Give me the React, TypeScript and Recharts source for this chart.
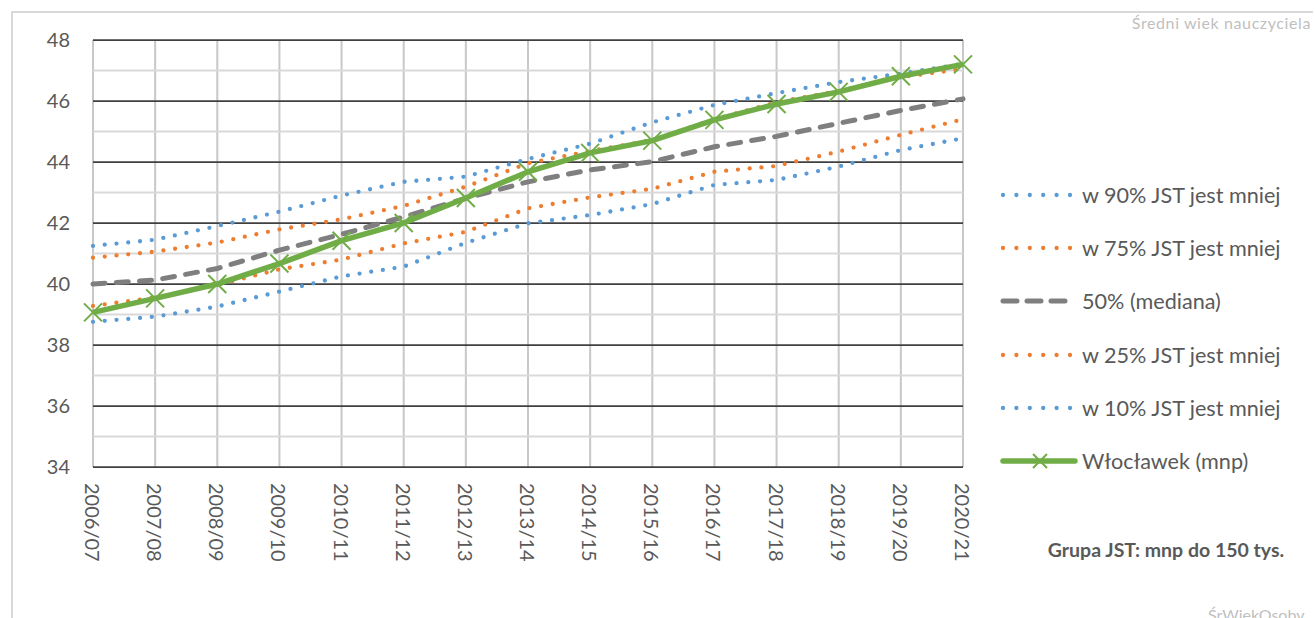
import React from 'react';
import { LineChart, Line, XAxis, YAxis, CartesianGrid, Legend, ReferenceLine } from 'recharts';

const categories = ['2006/07', '2007/08', '2008/09', '2009/10', '2010/11', '2011/12', '2012/13', '2013/14', '2014/15', '2015/16', '2016/17', '2017/18', '2018/19', '2019/20', '2020/21'];
const p90 = [41.25, 41.45, 41.9, 42.37, 42.9, 43.35, 43.52, 44.1, 44.6, 45.3, 45.87, 46.26, 46.62, 46.9, 47.22];
const p75 = [40.86, 41.06, 41.36, 41.79, 42.12, 42.56, 43.19, 43.96, 44.36, 44.72, 45.4, 45.96, 46.33, 46.78, 47.05];
const p50 = [40.0, 40.13, 40.51, 41.11, 41.63, 42.2, 42.81, 43.35, 43.74, 44.01, 44.5, 44.84, 45.27, 45.69, 46.07];
const p25 = [39.28, 39.56, 39.97, 40.48, 40.8, 41.33, 41.71, 42.48, 42.84, 43.12, 43.68, 43.87, 44.34, 44.89, 45.4];
const p10 = [38.76, 38.93, 39.26, 39.75, 40.25, 40.57, 41.35, 41.99, 42.26, 42.62, 43.25, 43.41, 43.85, 44.39, 44.78];
const wloclawek = [39.07, 39.53, 40.0, 40.67, 41.42, 42.0, 42.82, 43.68, 44.3, 44.7, 45.38, 45.9, 46.3, 46.81, 47.2];

const yMajorTicks = [34, 36, 38, 40, 42, 44, 46, 48];
const yMinorTicks = [35, 37, 39, 41, 43, 45, 47];

const seriesNames = {
  p90: 'w 90% JST jest mniej',
  p75: 'w 75% JST jest mniej',
  p50: '50% (mediana)',
  p25: 'w 25% JST jest mniej',
  p10: 'w 10% JST jest mniej',
  wl: 'Włocławek (mnp)',
};

const data = categories.map((cat, i) => ({
  cat,
  p90: p90[i],
  p75: p75[i],
  p50: p50[i],
  p25: p25[i],
  p10: p10[i],
  wl: wloclawek[i],
}));

const BLUE = '#5b9bd5';
const ORANGE = '#ed7d31';
const GRAY = '#7f7f7f';
const GREEN = '#70ad47';
const TEXT = '#595959';
const FONT = 'Lato, "Open Sans", sans-serif';

const seriesStyles = [
  { key: 'p90', color: BLUE, kind: 'dot' },
  { key: 'p75', color: ORANGE, kind: 'dot' },
  { key: 'p50', color: GRAY, kind: 'dash' },
  { key: 'p25', color: ORANGE, kind: 'dot' },
  { key: 'p10', color: BLUE, kind: 'dot' },
  { key: 'wl', color: GREEN, kind: 'solid' },
];

const XTick = (props: any) => {
  const { x, y, payload } = props;
  return (
    <text
      x={x}
      y={y}
      transform={`rotate(90 ${x} ${y})`}
      textAnchor="start"
      dominantBaseline="central"
      fill={TEXT}
      fontSize={20}
      fontFamily={FONT}
    >
      {payload.value}
    </text>
  );
};

const XDot = (props: any) => {
  const { cx, cy, index } = props;
  if (cx == null || cy == null) return <g key={`xd-${index}`} />;
  const s = 9;
  return (
    <path
      key={`xd-${index}`}
      d={`M${cx - s},${cy - s}L${cx + s},${cy + s}M${cx - s},${cy + s}L${cx + s},${cy - s}`}
      stroke={GREEN}
      strokeWidth={2}
      fill="none"
    />
  );
};

const LegendIcon = ({ kind, color }: { kind: string; color: string }) => {
  if (kind === 'dot') {
    return (
      <svg width={82} height={20} style={{ display: 'block', flex: 'none' }}>
        <line x1={3} y1={10} x2={70} y2={10} stroke={color} strokeWidth={4.3} strokeDasharray="0 13.4" strokeLinecap="round" />
      </svg>
    );
  }
  if (kind === 'dash') {
    return (
      <svg width={82} height={20} style={{ display: 'block', flex: 'none' }}>
        <line x1={3} y1={10} x2={70} y2={10} stroke={color} strokeWidth={5} strokeDasharray="14 10" strokeLinecap="round" />
      </svg>
    );
  }
  return (
    <svg width={82} height={20} style={{ display: 'block', flex: 'none' }}>
      <line x1={3} y1={10} x2={75} y2={10} stroke={color} strokeWidth={5.5} strokeLinecap="round" />
      <path d="M33,3L47,17M33,17L47,3" stroke={color} strokeWidth={2} fill="none" />
    </svg>
  );
};

const renderLegend = () => (
  <div style={{ fontFamily: FONT, fontSize: 21.6, color: TEXT }}>
    {seriesStyles.map((s) => (
      <div key={s.key} style={{ height: 53.2, display: 'flex', alignItems: 'center', whiteSpace: 'nowrap' }}>
        <LegendIcon kind={s.kind} color={s.color} />
        <span>{(seriesNames as any)[s.key]}</span>
      </div>
    ))}
  </div>
);

export default function App() {
  return (
    <div style={{ position: 'absolute', left: 0, top: 0, width: 1315, height: 618, overflow: 'hidden', background: '#fff' }}>
      <svg width={1315} height={640} style={{ position: 'absolute', left: 0, top: 0 }}>
        <line x1={11} y1={12} x2={1313} y2={12} stroke="#d9d9d9" strokeWidth={2} />
        <line x1={12} y1={11} x2={12} y2={640} stroke="#d9d9d9" strokeWidth={2} />
        <text x={1311} y={29} textAnchor="end" fill="#bfbfbf" fontSize={16} letterSpacing={0.6} fontFamily={FONT}>Średni wiek nauczyciela</text>
        <text x={1166} y={557} textAnchor="middle" fill={TEXT} fontSize={19.5} fontWeight="bold" fontFamily={FONT}>Grupa JST: mnp do 150 tys.</text>
        <text x={1208} y={621} textAnchor="start" fill="#bfbfbf" fontSize={16} fontFamily={FONT}>ŚrWiekOsoby</text>
      </svg>
      <div style={{ position: 'absolute', left: 0, top: 0 }}>
        <LineChart width={1315} height={618} data={data} margin={{ top: 40, right: 352, bottom: 41, left: 0 }}>
          <CartesianGrid horizontal={false} stroke="#c8c8c8" strokeWidth={2} />
          <CartesianGrid vertical={false} stroke="#404040" strokeWidth={1.75} />
          <XAxis
            dataKey="cat"
            interval={0}
            axisLine={false}
            tickLine={false}
            tickSize={0}
            tickMargin={16}
            height={110}
            tick={XTick}
          />
          <YAxis
            domain={[34, 48]}
            ticks={yMajorTicks}
            width={93}
            axisLine={false}
            tickLine={false}
            tickSize={0}
            tickMargin={23}
            tick={{ fill: TEXT, fontSize: 20, fontFamily: FONT }}
          />
          {yMinorTicks.map((v) => (
            <ReferenceLine key={`minor-${v}`} y={v} stroke="#d9d9d9" strokeWidth={2} />
          ))}
          <Line type="linear" dataKey="p90" name={seriesNames.p90} stroke={BLUE} strokeWidth={4.3} strokeDasharray="0 11.8" strokeLinecap="round" dot={false} activeDot={false} isAnimationActive={false} />
          <Line type="linear" dataKey="p75" name={seriesNames.p75} stroke={ORANGE} strokeWidth={4.3} strokeDasharray="0 11.8" strokeLinecap="round" dot={false} activeDot={false} isAnimationActive={false} />
          <Line type="linear" dataKey="p50" name={seriesNames.p50} stroke={GRAY} strokeWidth={5} strokeDasharray="12 11.3" strokeLinecap="round" dot={false} activeDot={false} isAnimationActive={false} />
          <Line type="linear" dataKey="p25" name={seriesNames.p25} stroke={ORANGE} strokeWidth={4.3} strokeDasharray="0 11.8" strokeLinecap="round" dot={false} activeDot={false} isAnimationActive={false} />
          <Line type="linear" dataKey="p10" name={seriesNames.p10} stroke={BLUE} strokeWidth={4.3} strokeDasharray="0 11.8" strokeLinecap="round" dot={false} activeDot={false} isAnimationActive={false} />
          <Line type="linear" dataKey="wl" name={seriesNames.wl} stroke={GREEN} strokeWidth={5.5} dot={XDot} activeDot={false} isAnimationActive={false} />
          <Legend
            layout="vertical"
            align="center"
            verticalAlign="middle"
            content={renderLegend}
            wrapperStyle={{ left: 1000, top: 168.4, width: 315 }}
          />
        </LineChart>
      </div>
    </div>
  );
}
